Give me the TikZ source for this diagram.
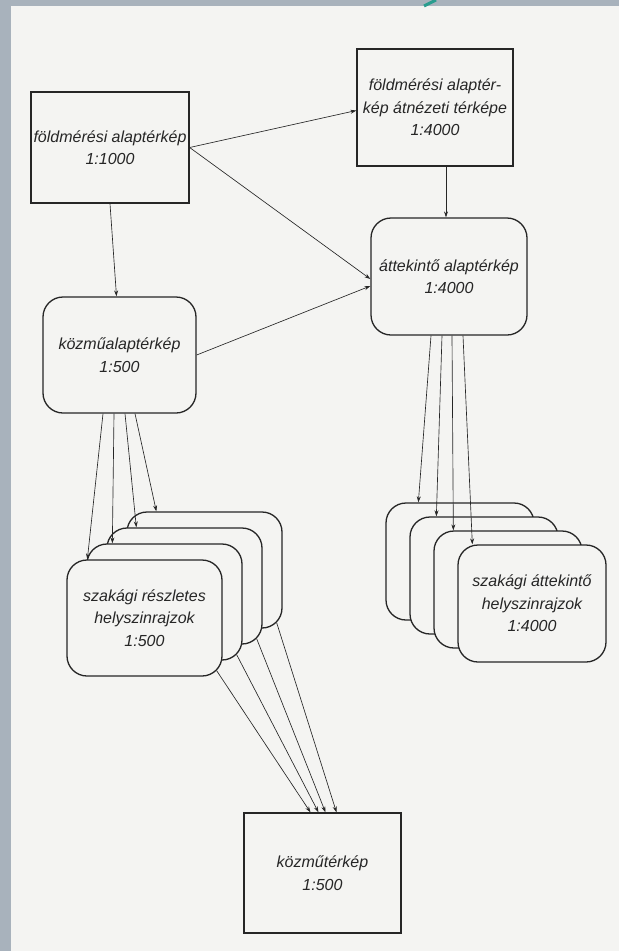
\documentclass[tikz,border=0pt]{standalone}
\usepackage{fontspec}
\setmainfont{Liberation Sans}
\usetikzlibrary{positioning,calc,arrows.meta}
\definecolor{pagebg}{HTML}{F4F4F2}
\definecolor{framebg}{HTML}{A8B2BC}
\definecolor{inkline}{HTML}{262626}
\definecolor{tealmark}{HTML}{2A9D8F}

\begin{document}
\begin{tikzpicture}[x=1pt, y=-1pt,
    mapbox/.style={rectangle, draw=inkline, line width=1.3pt, fill=pagebg, text=inkline, align=center, inner sep=0pt, font=\fontsize{16}{22.5}\selectfont\itshape},
    roundbox/.style={mapbox, rounded corners=20pt},
    arr/.style={-{Stealth[length=6pt, width=4pt]}, draw=inkline, line width=0.65pt}]
            \useasboundingbox (0,0) rectangle (619,951);
            % Page
            \fill[framebg] (0,0) rectangle (619,951);
            \fill[pagebg] (11,6) rectangle (619,951);
            \draw[tealmark, line width=3pt] (424,6) -- (436,0);

            % Nodes
            \node[mapbox, minimum width=158pt, minimum height=111pt] (fold) at (110,147.5) {földmérési alaptérkép\\1:1000};

            \node[mapbox, minimum width=156pt, minimum height=117pt] (atnez) at (435,107.5) {földmérési alaptér-\\kép átnézeti térképe\\1:4000};

            \node[roundbox, minimum width=156pt, minimum height=117pt] (attek) at (449,276.5) {áttekintő alaptérkép\\1:4000};

            \node[roundbox, minimum width=153pt, minimum height=116pt] (kozmu) at (119.5,355) {közműalaptérkép\\1:500};

            % szakági részletes helyszínrajzok, back to front
            \node[roundbox, minimum width=155pt, minimum height=116pt] (resz4) at (204.5,570) {};
            \node[roundbox, minimum width=155pt, minimum height=116pt] (resz3) at (184.5,586) {};
            \node[roundbox, minimum width=155pt, minimum height=116pt] (resz2) at (164.5,602) {};
            \node[roundbox, minimum width=155pt, minimum height=116pt] (resz1) at (144.5,618) {szakági részletes\\helyszinrajzok\\1:500};

            % szakági áttekintő helyszínrajzok, back to front
            \node[roundbox, minimum width=148pt, minimum height=117pt] (atk4) at (460,561.5) {};
            \node[roundbox, minimum width=148pt, minimum height=117pt] (atk3) at (484,575.5) {};
            \node[roundbox, minimum width=148pt, minimum height=117pt] (atk2) at (508,589.5) {};
            \node[roundbox, minimum width=148pt, minimum height=117pt] (atk1) at (532,603.5) {szakági áttekintő\\helyszinrajzok\\1:4000};

            \node[mapbox, minimum width=157pt, minimum height=120pt] (kmterkep) at (322.5,873) {közműtérkép\\1:500};

            % Connectors
            \draw[arr] (fold.east) -- ($(atnez.west)+(0,3)$);
            \draw[arr] (fold.east) -- ($(attek.west)+(0,2.5)$);
            \draw[arr] (fold.south) -- ($(kozmu.north)+(-3,0)$);
            \draw[arr] ($(atnez.south)+(11,0)$) -- ($(attek.north)+(-3,0)$);
            \draw[arr] (kozmu.east) -- ($(attek.west)+(0,9.5)$);

            \draw[arr] ($(kozmu.south)+(-16.5,0)$) -- ($(resz1.north west)+(21,0)$);
            \draw[arr] ($(kozmu.south)+(-5.5,0)$) -- ($(resz2.north west)+(26,0)$);
            \draw[arr] ($(kozmu.south)+(5.5,0)$) -- ($(resz3.north west)+(30,0)$);
            \draw[arr] ($(kozmu.south)+(15.5,0)$) -- ($(resz4.north west)+(30,0)$);

            \draw[arr] ($(attek.south)+(-18,0)$) -- ($(atk4.north west)+(33,0)$);
            \draw[arr] ($(attek.south)+(-7,0)$) -- ($(atk3.north west)+(27,0)$);
            \draw[arr] ($(attek.south)+(3,0)$) -- ($(atk2.north west)+(20,0)$);
            \draw[arr] ($(attek.south)+(14,0)$) -- ($(atk1.north west)+(15,0)$);

            \draw[arr] ($(resz1.south east)+(-6,-6)$) -- ($(kmterkep.north)+(-12,0)$);
            \draw[arr] ($(resz2.south east)+(-6,-6)$) -- ($(kmterkep.north)+(-4,0)$);
            \draw[arr] ($(resz3.south east)+(-6,-6)$) -- ($(kmterkep.north)+(3,0)$);
            \draw[arr] ($(resz4.south east)+(-6,-6)$) -- ($(kmterkep.north)+(14,0)$);
\end{tikzpicture}
\end{document}
